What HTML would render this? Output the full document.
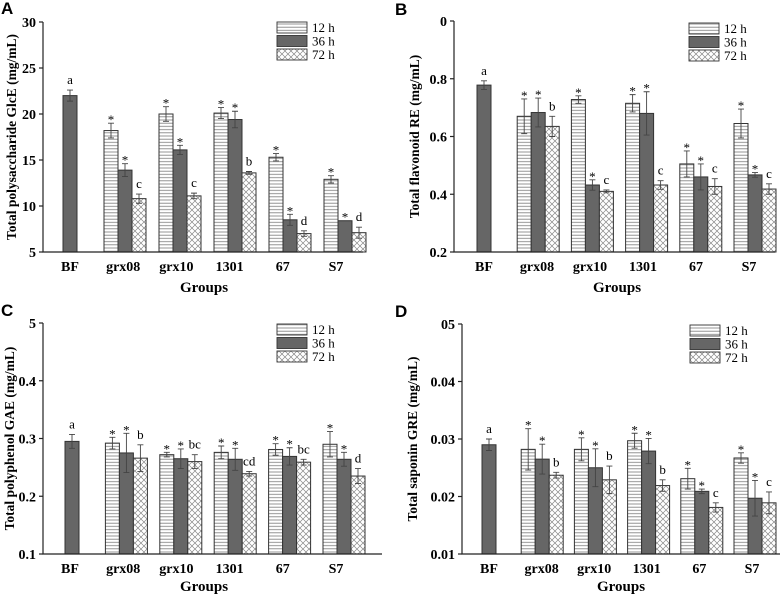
<!DOCTYPE html>
<html><head><meta charset="utf-8"><style>
body{margin:0;background:#fff;width:784px;height:596px;overflow:hidden}
svg{display:block}
text{font-family:"Liberation Serif",serif}
</style></head><body>
<svg id="s" width="784" height="596">
<defs>
<pattern id="hs" width="4" height="3.2" patternUnits="userSpaceOnUse"><rect width="4" height="3.2" fill="#fff"/><line x1="0" y1="1.6" x2="4" y2="1.6" stroke="#888" stroke-width="0.9"/></pattern>
<pattern id="xh" width="6" height="6" patternUnits="userSpaceOnUse"><rect width="6" height="6" fill="#fff"/><path d="M0,0L6,6M6,0L0,6" stroke="#888" stroke-width="0.7"/></pattern>
</defs>
</svg>
<script>
const cats=["BF","grx08","grx10","1301","67","S7"];
const seriesNames=["12 h","36 h","72 h"];
// panel A
const a12=[null,18.2,20.0,20.1,15.3,12.9], a12e=[0,0.8,0.8,0.6,0.4,0.4];
const a36=[22.0,13.9,16.1,19.4,8.5,8.4], a36e=[0.6,0.7,0.5,0.9,0.6,0];
const a72=[null,10.8,11.1,13.6,7.0,7.1], a72e=[0,0.5,0.3,0.15,0.3,0.6];
const aSig=[["","a",""],["*","*","c"],["*","*","c"],["*","*","b"],["*","*","d"],["*","*","d"]];
const aTicks=["5","10","15","20","25","30"];
// panel B
const b12=[null,0.67,0.728,0.715,0.505,0.645], b12e=[0,0.06,0.013,0.03,0.045,0.05];
const b36=[0.778,0.683,0.432,0.68,0.46,0.467], b36e=[0.015,0.05,0.018,0.075,0.045,0.008];
const b72=[null,0.635,0.41,0.432,0.427,0.418], b72e=[0,0.035,0.005,0.015,0.027,0.018];
const bSig=[["","a",""],["*","*","b"],["*","*","c"],["*","*","c"],["*","*","c"],["*","*","c"]];
const bTicks=["0.2","0.4","0.6","0.8","0"];
// panel C
const c12=[null,0.292,0.272,0.276,0.281,0.29], c12e=[0,0.01,0.004,0.011,0.01,0.022];
const c36=[0.295,0.275,0.265,0.264,0.269,0.264], c36e=[0.012,0.034,0.017,0.019,0.015,0.012];
const c72=[null,0.266,0.26,0.239,0.259,0.235], c72e=[0,0.023,0.012,0.004,0.005,0.013];
const cSig=[["","a",""],["*","*","b"],["*","*","bc"],["*","*","cd"],["*","*","bc"],["*","*","d"]];
const cTicks=["0.1","0.2","0.3","0.4","5"];
// panel D
const d12=[null,0.0282,0.0282,0.0297,0.0231,0.0267], d12e=[0,0.0036,0.002,0.0013,0.0018,0.0009];
const d36=[0.029,0.0265,0.025,0.0279,0.0209,0.0197], d36e=[0.001,0.0026,0.0033,0.0022,0.0004,0.0031];
const d72=[null,0.0237,0.0229,0.0219,0.0181,0.0189], d72e=[0,0.0005,0.0024,0.001,0.0008,0.0019];
const dSig=[["","a",""],["*","*","b"],["*","*","b"],["*","*","b"],["*","*","c"],["*","*","c"]];
const dTicks=["0.01","0.02","0.03","0.04","05"];

const svg=document.getElementById('s');
const NS="http://www.w3.org/2000/svg";
function mk(tag,attrs,parent){const e=document.createElementNS(NS,tag);for(const k in attrs)e.setAttribute(k,attrs[k]);(parent||svg).appendChild(e);return e;}
const fills=["url(#hs)","#666","url(#xh)"];

function panel(P){
  const g=mk('g',{});
  
  
  const y=v=>P.y1-(v-P.min)/(P.max-P.min)*(P.y1-P.y0);
  const cx=i=>P.c0+P.step*i;
  const L=mk('text',{x:P.lx,y:P.ly,'font-size':17,'font-weight':'bold',style:'font-family:"Liberation Sans",sans-serif'},g);L.textContent=P.letter;
  
  
  const vals=[P.s12,P.s36,P.s72], errs=[P.e12,P.e36,P.e72];
  const bw=14;
  for(let i=0;i<cats.length;i++){
    for(let s=0;s<3;s++){
      const v=vals[s][i]; if(v==null) continue;
      const x=cx(i)+(s-1)*bw-bw/2;
      const r=mk('rect',{x:x,y:y(v),width:bw,height:P.y1-y(v),fill:fills[s],stroke:'#333','stroke-width':1},g);
      
      
      const e=errs[s][i], xc=x+bw/2;
      if(e>0){
        const eb=mk('path',{d:`M${xc},${y(v+e)}V${y(v-e)}M${xc-3},${y(v+e)}h6M${xc-3},${y(v-e)}h6`,stroke:'#444','stroke-width':0.9,fill:'none'},g);
        
        
      }
      const lab=P.sig[i][s];
      if(lab){const t=mk('text',{x:xc,y:lab=='*'?y(v+e)+1:y(v+e)-6,'text-anchor':'middle','font-size':13},g);t.textContent=lab;
        
        }
    }
    const ct=mk('text',{x:P.l0+P.lstep*i,y:P.y1+19,'text-anchor':'middle','font-size':14,'font-weight':'bold'},g);ct.textContent=cats[i];
    
    
  }
  const ax=mk('path',{d:`M${P.x0},${P.y0}V${P.y1}H${P.x1}`,stroke:'#222','stroke-width':1.2,fill:'none'},g);
  
  
  P.ticks.forEach((tl,k)=>{
    const v=P.min+k*(P.max-P.min)/(P.ticks.length-1);
    mk('line',{x1:P.x0-4,x2:P.x0,y1:y(v),y2:y(v),stroke:'#222','stroke-width':1.2},g);
    const t=mk('text',{x:P.x0-7,y:y(v)+5,'text-anchor':'end','font-size':14,'font-weight':'bold'},g);t.textContent=tl;
    
    
  });
  const yt=mk('text',{transform:`translate(${P.ytx},${(P.y0+P.y1)/2}) rotate(-90)`,'text-anchor':'middle','font-size':13.5,'font-weight':'bold'},g);yt.textContent=P.ytitle;
  
  
  const xt=mk('text',{x:P.gx,y:P.y1+P.gdy,'text-anchor':'middle','font-size':15,'font-weight':'bold'},g);xt.textContent='Groups';
  
  
  for(let s=0;s<3;s++){
    const ry=P.legy+s*13.5;
    const lr=mk('rect',{x:P.legx,y:ry,width:30,height:11,fill:fills[s],stroke:'#333','stroke-width':0.9},g);
    
    
    const lt=mk('text',{x:P.legx+35,y:ry+10,'font-size':13},g);lt.textContent=seriesNames[s];
    
    
  }
}
panel({letter:'A',lx:1,ly:14,x0:43,x1:363,y0:22,y1:252,min:5,max:30,c0:70,step:55,l0:70,lstep:53.2,gdy:40,
  s12:a12,s36:a36,s72:a72,e12:a12e,e36:a36e,e72:a72e,sig:aSig,ticks:aTicks,ytitle:'Total polysaccharide GlcE (mg/mL)',ytx:16,gx:204,legx:277,legy:22});
panel({letter:'B',lx:392+3,ly:15,x0:454,x1:775,y0:21,y1:252,min:0.2,max:1.0,c0:484,step:54.2,l0:484,lstep:53,gdy:40,
  s12:b12,s36:b36,s72:b72,e12:b12e,e36:b36e,e72:b72e,sig:bSig,ticks:bTicks,ytitle:'Total flavonoid RE (mg/mL)',ytx:419,gx:617,legx:689,legy:23});
panel({letter:'C',lx:1,ly:316,x0:43,x1:382,y0:323,y1:554,min:0.1,max:0.5,c0:72,step:54.4,l0:70,lstep:53.2,gdy:37,
  s12:c12,s36:c36,s72:c72,e12:c12e,e36:c36e,e72:c72e,sig:cSig,ticks:cTicks,ytitle:'Total polyphenol GAE (mg/mL)',ytx:14,gx:204,legx:277,legy:324});
panel({letter:'D',lx:392+3,ly:317,x0:462,x1:780,y0:324,y1:554,min:0.01,max:0.05,c0:489,step:53.2,l0:489,lstep:52.6,gdy:37,
  s12:d12,s36:d36,s72:d72,e12:d12e,e36:d36e,e72:d72e,sig:dSig,ticks:dTicks,ytitle:'Total saponin GRE (mg/mL)',ytx:417,gx:621,legx:690,legy:325});
</script>
</body></html>
